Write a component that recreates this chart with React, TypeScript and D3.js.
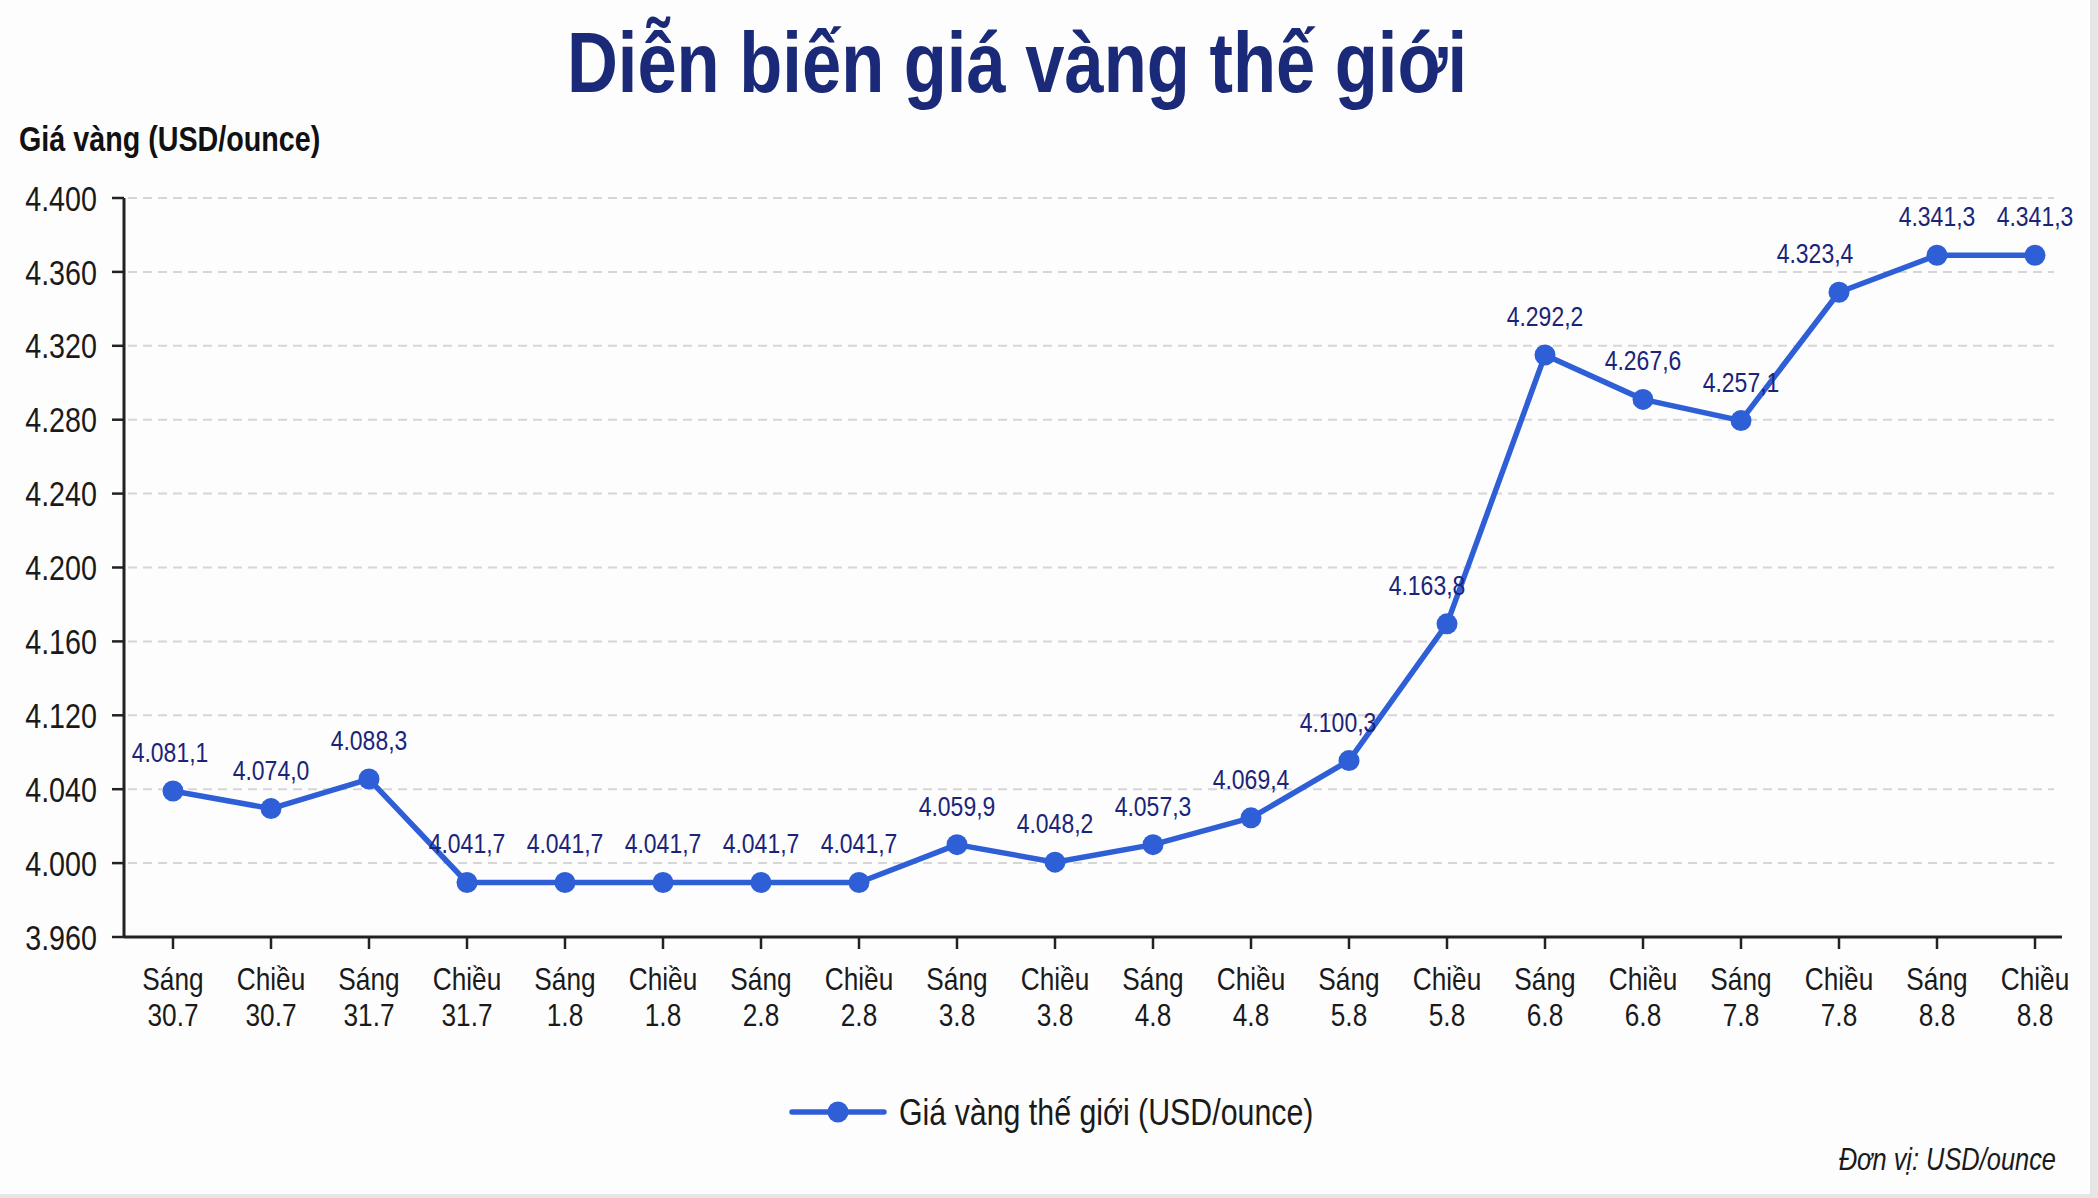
import React from "react";
import * as d3 from "d3";

const categories = [
  ["Sáng", "30.7"], ["Chiều", "30.7"], ["Sáng", "31.7"], ["Chiều", "31.7"],
  ["Sáng", "1.8"], ["Chiều", "1.8"], ["Sáng", "2.8"], ["Chiều", "2.8"],
  ["Sáng", "3.8"], ["Chiều", "3.8"], ["Sáng", "4.8"], ["Chiều", "4.8"],
  ["Sáng", "5.8"], ["Chiều", "5.8"], ["Sáng", "6.8"], ["Chiều", "6.8"],
  ["Sáng", "7.8"], ["Chiều", "7.8"], ["Sáng", "8.8"], ["Chiều", "8.8"],
];

// positions of the markers as drawn in the picture (axis units)
const plottedValues = [
  4079, 4069.5, 4085.5, 4029.5, 4029.5, 4029.5, 4029.5, 4029.5, 4050, 4040.5,
  4050, 4064.5, 4095.5, 4169.5, 4315, 4291, 4279.5, 4349, 4369, 4369,
];

// the value labels printed above the markers
const valueLabels = [
  "4.081,1", "4.074,0", "4.088,3", "4.041,7", "4.041,7", "4.041,7", "4.041,7",
  "4.041,7", "4.059,9", "4.048,2", "4.057,3", "4.069,4", "4.100,3", "4.163,8",
  "4.292,2", "4.267,6", "4.257,1", "4.323,4", "4.341,3", "4.341,3",
];

const yTicks = [4000, 4040, 4080, 4120, 4160, 4200, 4240, 4280, 4320, 4360, 4400];
const yTickLabels = [
  "3.960", "4.000", "4.040", "4.120", "4.160", "4.200", "4.240", "4.280",
  "4.320", "4.360", "4.400",
];

const title = "Diễn biến giá vàng thế giới";
const yAxisTitle = "Giá vàng (USD/ounce)";
const seriesName = "Giá vàng thế giới (USD/ounce)";
const unitNote = "Đơn vị: USD/ounce";

// small layout nudges for labels that sit beside steep segments
const labelNudge: Record<number, number> = { 0: -3, 12: -11, 13: -20, 17: -24 };

const FONT = "'Liberation Sans', Arial, sans-serif";
const SX = 0.82; // narrow face emulation
const LINE = "#2f5fd6";
const NAVY = "#1b2479";

function NText(props: any) {
  const { x, y, children, ...rest } = props;
  return (
    <text transform={`translate(${x},${y}) scale(${SX},1)`} {...rest}>
      {children}
    </text>
  );
}

export default function App() {
  const W = 2098;
  const H = 1198;
  const left = 124;
  const right = 2062;
  const top = 198;
  const bottom = 937;

  const x = d3
    .scalePoint<number>()
    .domain(categories.map((_, i) => i))
    .range([173, 2035]);
  const y = d3.scaleLinear().domain([4000, 4400]).range([bottom, top]);

  const line = d3
    .line<number>()
    .x((_, i) => x(i)!)
    .y((d) => y(d));

  return (
    <svg
      width={W}
      height={H}
      style={{ position: "absolute", left: 0, top: 0, background: "#fdfdfd" }}
      fontFamily={FONT}
    >
      <rect x={0} y={0} width={W} height={H} fill="#fdfdfd" />
      {/* frame edges */}
      <rect x={2090} y={0} width={8} height={H} fill="#e6e6e6" />
      <rect x={0} y={1194} width={W} height={4} fill="#e6e6e6" />

      <NText x={1017} y={92} textAnchor="middle" fontSize={86} fontWeight="bold" fill="#1b2a78">
        {title}
      </NText>

      <NText x={19} y={151} fontSize={35} fontWeight="bold" fill="#111">
        {yAxisTitle}
      </NText>

      {/* grid */}
      {yTicks.slice(1).map((t) => (
        <line
          key={t}
          x1={left + 4}
          x2={2054}
          y1={y(t)}
          y2={y(t)}
          stroke="#d6d6d6"
          strokeWidth={2}
          strokeDasharray="9 6"
        />
      ))}

      {/* y axis */}
      <line x1={left} x2={left} y1={top} y2={bottom} stroke="#222" strokeWidth={3} />
      {yTicks.map((t, i) => (
        <g key={t}>
          <line x1={left - 12} x2={left} y1={y(t)} y2={y(t)} stroke="#222" strokeWidth={2.5} />
          <NText x={97} y={y(t)} dy="0.36em" textAnchor="end" fontSize={35} fill="#1a1a1a">
            {yTickLabels[i]}
          </NText>
        </g>
      ))}

      {/* x axis */}
      <line x1={left} x2={right} y1={bottom} y2={bottom} stroke="#222" strokeWidth={3} />
      {categories.map((c, i) => (
        <g key={i}>
          <line x1={x(i)} x2={x(i)} y1={bottom} y2={bottom + 12} stroke="#222" strokeWidth={2.5} />
          <NText x={x(i)} y={990} textAnchor="middle" fontSize={32} fill="#1a1a1a">
            {c[0]}
          </NText>
          <NText x={x(i)} y={1026} textAnchor="middle" fontSize={32} fill="#1a1a1a">
            {c[1]}
          </NText>
        </g>
      ))}

      {/* series */}
      <path
        d={line(plottedValues) ?? ""}
        fill="none"
        stroke={LINE}
        strokeWidth={5.5}
        strokeLinejoin="round"
      />
      {plottedValues.map((v, i) => (
        <circle key={i} cx={x(i)} cy={y(v)} r={10.5} fill={LINE} />
      ))}
      {plottedValues.map((v, i) => (
        <NText
          key={"l" + i}
          x={x(i)! + (labelNudge[i] ?? 0)}
          y={y(v) - 29}
          textAnchor="middle"
          fontSize={28}
          fill={NAVY}
        >
          {valueLabels[i]}
        </NText>
      ))}

      {/* legend */}
      <line x1={792} x2={884} y1={1112} y2={1112} stroke={LINE} strokeWidth={5.5} strokeLinecap="round" />
      <circle cx={838} cy={1112} r={10.5} fill={LINE} />
      <NText x={899} y={1112} dy="0.36em" fontSize={37} fill="#1a1a1a">
        {seriesName}
      </NText>

      <NText x={2056} y={1170} textAnchor="end" fontSize={31} fontStyle="italic" fill="#1a1a1a">
        {unitNote}
      </NText>
    </svg>
  );
}
